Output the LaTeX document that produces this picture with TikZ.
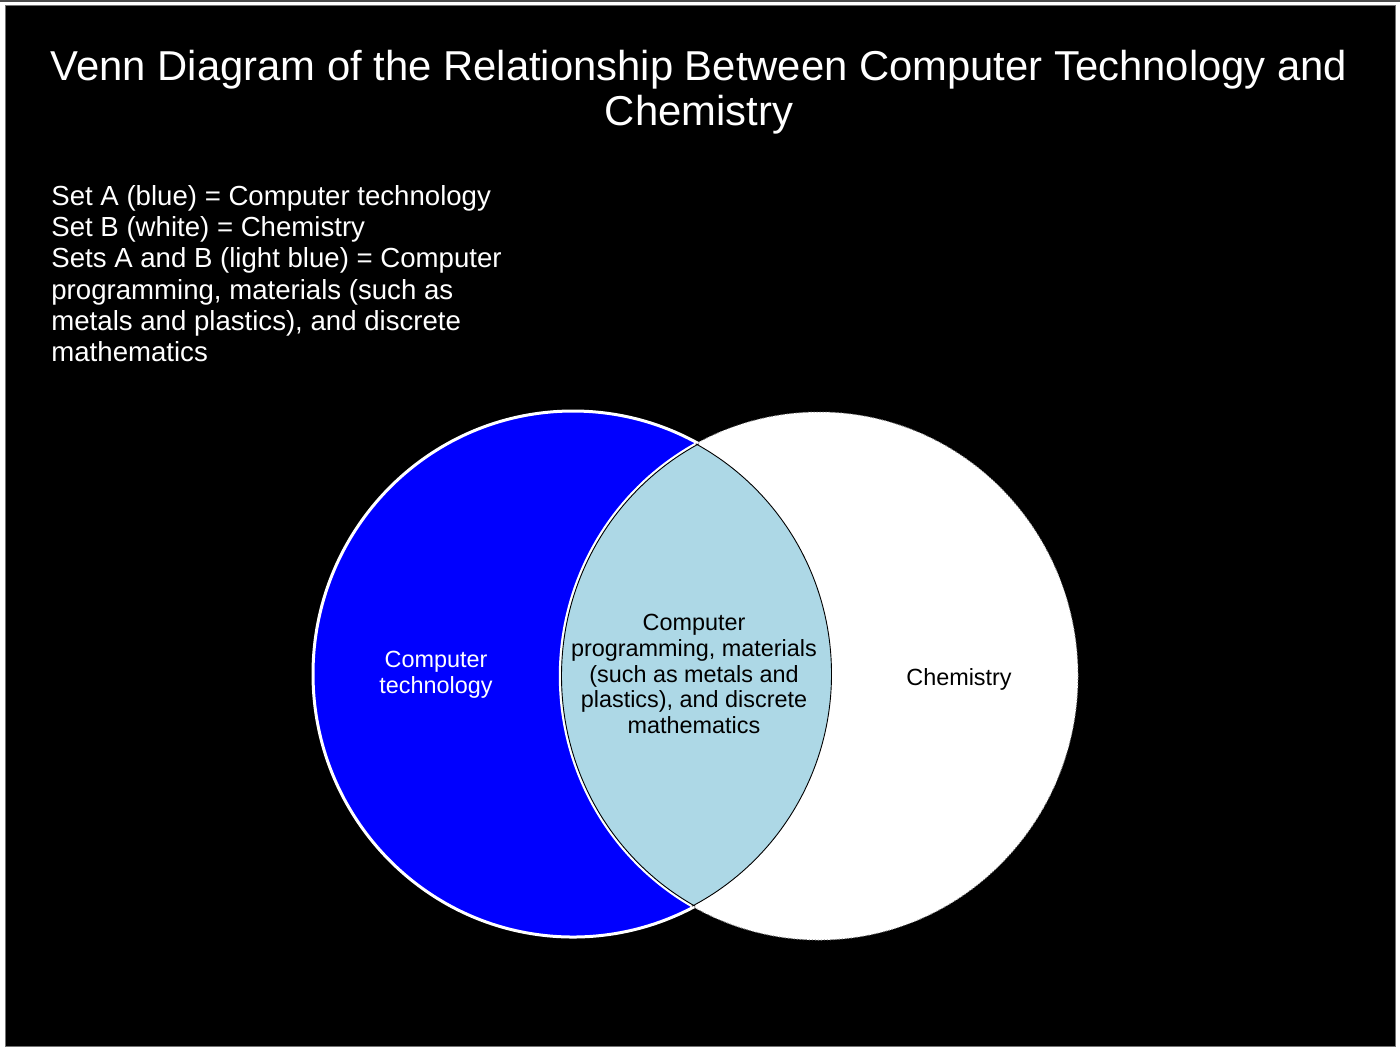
\documentclass[tikz,border=0pt]{standalone}
\usepackage{fontspec}
\setmainfont{Liberation Sans}
\definecolor{lensblue}{RGB}{173,216,230}
\tikzset{
  lbl/.style={inner sep=0pt, align=center},
}
\begin{document}
\begin{tikzpicture}[x=0.5pt,y=-0.5pt]
\useasboundingbox (0,0) rectangle (1400,1051);
\fill[white] (0,0) rectangle (1400,1051);
\fill[black!70] (0,0) rectangle (1400,2);
\filldraw[fill=black, draw=black!55, line width=0.5pt] (5,5) rectangle (1395,1046);
% circles
\coordinate (A) at (573,674);
\coordinate (B) at (819,676);
\fill[blue] (A) ellipse [x radius=260, y radius=263];
\fill[white] (B) ellipse [x radius=259, y radius=264];
\begin{scope}
  \clip (A) ellipse [x radius=260, y radius=263];
  \fill[lensblue] (B) ellipse [x radius=259, y radius=264];
\end{scope}
\draw[white, line width=1.5pt] (A) ellipse [x radius=260, y radius=263];
\draw[black!45, line width=0.5pt, densely dotted] (B) ellipse [x radius=259, y radius=264];
\begin{scope}
  \clip (A) ellipse [x radius=260, y radius=263];
  \draw[white, line width=1.2pt] (B) ellipse [x radius=259, y radius=264];
  \draw[black, line width=0.45pt] (B) ellipse [x radius=257.5, y radius=262.5];
\end{scope}
\begin{scope}
  \clip (B) ellipse [x radius=259, y radius=264];
  \draw[black, line width=0.45pt] (A) ellipse [x radius=258.5, y radius=261.5];
\end{scope}
% title
\node[lbl, text=white, font=\fontsize{20.9}{22.5}\selectfont] (title) at (699,92)
  {Venn Diagram of the Relationship Between Computer Technology and\\Chemistry};
% legend
\node[lbl, align=left, anchor=north west, text=white, font=\fontsize{13.8}{15.6}\selectfont] (legend) at (51,185)
  {Set A (blue) = Computer technology\\
   Set B (white) = Chemistry\\
   Sets A and B (light blue) = Computer\\
   programming, materials (such as\\
   metals and plastics), and discrete\\
   mathematics};
% labels
\node[lbl, text=white, font=\fontsize{11.7}{13}\selectfont] (ct) at (436,675) {Computer\\technology};
\node[lbl, text=black, font=\fontsize{11.7}{12.9}\selectfont] (both) at (694,674)
  {Computer\\programming, materials\\(such as metals and\\plastics), and discrete\\mathematics};
\node[lbl, text=black, font=\fontsize{11.7}{13}\selectfont] (chem) at (959,679) {Chemistry};
\end{tikzpicture}
\end{document}
